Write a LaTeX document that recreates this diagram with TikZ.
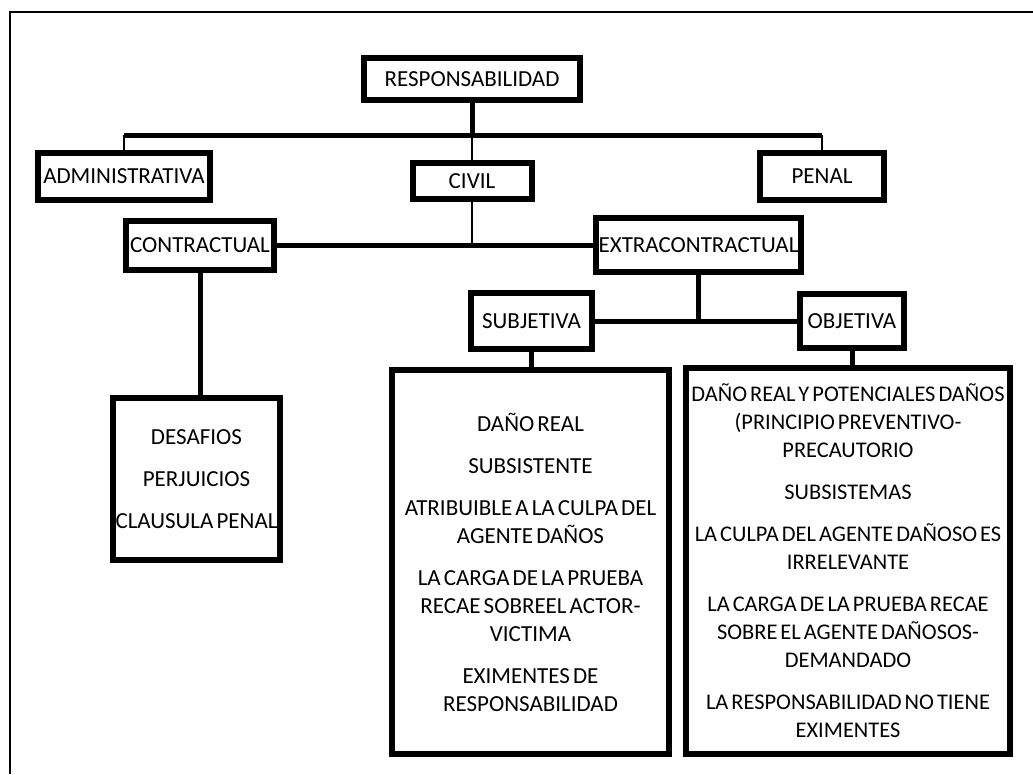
\documentclass[tikz,border=0pt]{standalone}
\usepackage{fontspec}
\setmainfont{Carlito}[WordSpace=0.6]

\begin{document}
\begin{tikzpicture}[x=1pt, y=-1pt,
    bx/.style={draw, line width=6pt, inner sep=0pt, align=center,
      font=\fontsize{23}{28}\selectfont},
    lk/.style={line width=5pt},
    tn/.style={line width=2pt}]
  \useasboundingbox (0,0) rectangle (1033,774);
  \draw[line width=2pt] (10,774) -- (10,12) -- (1033,12);

  \node[bx, minimum width=216pt, minimum height=42pt] (resp) at (472,79) {RESPONSABILIDAD};
  \node[bx, minimum width=172pt, minimum height=47pt] (admin) at (124,176.5) {ADMINISTRATIVA};
  \node[bx, minimum width=119pt, minimum height=36pt] (civil) at (472,181) {CIVIL};
  \node[bx, minimum width=124pt, minimum height=47pt] (penal) at (822,176.5) {PENAL};
  \node[bx, minimum width=148pt, minimum height=49pt] (contr) at (200,245) {CONTRACTUAL};
  \node[bx, minimum width=205pt, minimum height=54pt] (extra) at (698.5,245) {EXTRACONTRACTUAL};
  \node[bx, minimum width=167pt, minimum height=162pt] (desaf) at (196.5,479)
    {DESAFIOS\\[14pt]PERJUICIOS\\[14pt]CLAUSULA PENAL};
  \node[bx, minimum width=121pt, minimum height=56pt] (subj) at (531.5,321) {SUBJETIVA};
  \node[bx, minimum width=104pt, minimum height=54pt] (obj) at (852,321) {OBJETIVA};
  \node[bx, minimum width=277pt, minimum height=384pt] (subjlist) at (530.5,562)
    {DAÑO REAL\\[14pt]SUBSISTENTE\\[14pt]ATRIBUIBLE A LA CULPA DEL\\AGENTE DAÑOS\\[14pt]%
     LA CARGA DE LA PRUEBA\\RECAE SOBREEL ACTOR-\\VICTIMA\\[14pt]%
     EXIMENTES DE\\RESPONSABILIDAD};
  \node[bx, font=\fontsize{22.4}{28}\selectfont, minimum width=324pt, minimum height=386pt] (objlist) at (848,561)
    {DAÑO REAL Y POTENCIALES DAÑOS\\(PRINCIPIO PREVENTIVO-\\PRECAUTORIO\\[14pt]%
     SUBSISTEMAS\\[14pt]LA CULPA DEL AGENTE DAÑOSO ES\\IRRELEVANTE\\[14pt]%
     LA CARGA DE LA PRUEBA RECAE\\SOBRE EL AGENTE DAÑOSOS-\\DEMANDADO\\[14pt]%
     LA RESPONSABILIDAD NO TIENE\\EXIMENTES};

  \coordinate (bar1) at (0,135);
  \coordinate (bar2) at (0,245);
  \draw[lk] (resp.south) -- (resp.south |- bar1);
  \draw[lk] (admin.north |- bar1) -- (penal.north |- bar1);
  \draw[tn] (admin.north |- bar1) -- (admin.north);
  \draw[tn] (civil.north |- bar1) -- (civil.north);
  \draw[tn] (penal.north |- bar1) -- (penal.north);
  \draw[tn] (civil.south) -- (civil.south |- bar2);
  \draw[lk] (contr.east) -- (extra.west);
  \draw[lk] (contr.south) -- (contr.south |- desaf.north);
  \draw[lk] (extra.south) -- (extra.south |- subj.east);
  \draw[lk] (subj.east) -- (obj.west);
  \draw[lk] (subj.south) -- (subj.south |- subjlist.north);
  \draw[lk] (obj.south) -- (obj.south |- objlist.north);
\end{tikzpicture}
\end{document}
